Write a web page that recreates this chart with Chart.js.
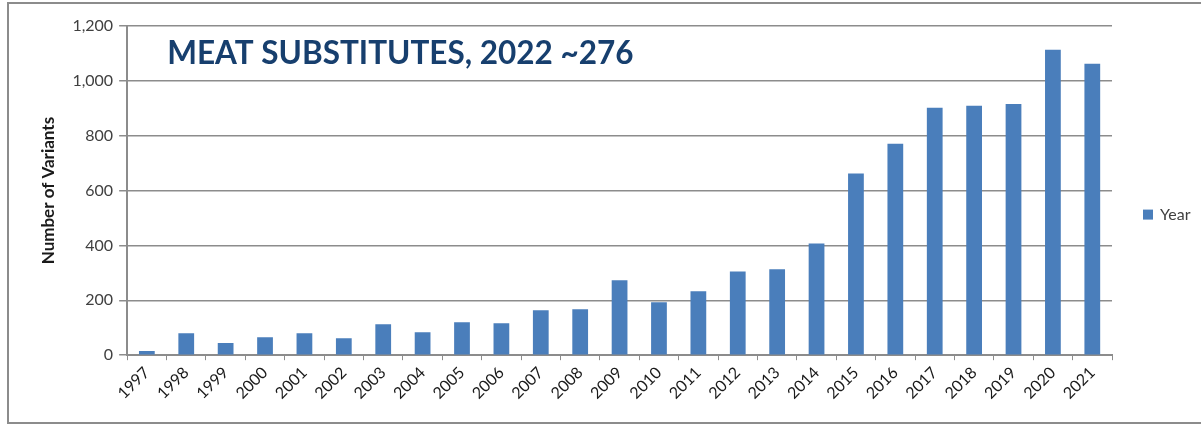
<!DOCTYPE html>
<html>
<head>
<meta charset="utf-8">
<script src="https://cdn.jsdelivr.net/npm/chart.js@4/dist/chart.umd.min.js"></script>
<style>
    html, body { margin: 0; padding: 0; background: #fff; }
    #frame {
        position: absolute; left: 7px; top: 2px; width: 1210px; height: 418px;
        border: 2px solid #8c8c8c;
    }
    #wrap { position: absolute; left: 0; top: 0; width: 1201px; height: 425px; }
</style>
</head>
<body>
<div id="frame"></div>
<div id="wrap"><canvas id="meatChart"></canvas></div>
<script>
// data
const years = ['1997', '1998', '1999', '2000', '2001', '2002', '2003', '2004', '2005', '2006',
    '2007', '2008', '2009', '2010', '2011', '2012', '2013', '2014', '2015', '2016',
    '2017', '2018', '2019', '2020', '2021'];
const variants = [15, 80, 44, 65, 80, 62, 113, 84, 120, 116,
    164, 167, 273, 193, 233, 305, 313, 407, 662, 771,
    902, 909, 916, 1113, 1062];
const yTicks = [0, 200, 400, 600, 800, 1000, 1200];
const seriesName = 'Year';
const headline = 'MEAT SUBSTITUTES, 2022 ~276';

const fontFamily = 'Lato, "Open Sans", sans-serif';

// title sits inside the plot area
const headlinePlugin = {
    id: 'headline',
    afterDraw(chart) {
        const ctx = chart.ctx;
        const area = chart.chartArea;
        ctx.save();
        ctx.font = 'bold 31.5px ' + fontFamily;
        ctx.fillStyle = '#173f6e';
        ctx.textBaseline = 'middle';
        ctx.fillText(headline, area.left + 40, area.top + 28);
        ctx.restore();
    }
};

// legend drawn to the right of the plot, vertically centred
const sideLegendPlugin = {
    id: 'sideLegend',
    afterDraw(chart) {
        const ctx = chart.ctx;
        const area = chart.chartArea;
        const ds = chart.data.datasets[0];
        const cy = (area.top + area.bottom) / 2 + 24;
        const x = area.right + 31;
        ctx.save();
        ctx.fillStyle = ds.backgroundColor;
        ctx.fillRect(x, cy - 5, 10, 10);
        ctx.font = '16px ' + fontFamily;
        ctx.fillStyle = '#404040';
        ctx.textBaseline = 'middle';
        ctx.fillText(ds.label, x + 17, cy);
        ctx.restore();
    }
};

new Chart(document.getElementById('meatChart'), {
    type: 'bar',
    data: {
        labels: years,
        datasets: [{
            label: seriesName,
            data: variants,
            backgroundColor: '#4a7ebb',
            borderWidth: 0,
            barPercentage: 0.4,
            categoryPercentage: 1
        }]
    },
    options: {
        responsive: true,
        maintainAspectRatio: false,
        animation: false,
        layout: {
            padding: { left: 34, right: 89, top: 26, bottom: 19 }
        },
        plugins: {
            legend: { display: false },
            tooltip: { enabled: false }
        },
        scales: {
            x: {
                grid: {
                    display: true,
                    offset: true,
                    drawOnChartArea: false,
                    drawTicks: true,
                    tickLength: 5,
                    color: '#8c8c8c'
                },
                border: { color: '#8c8c8c', width: 2 },
                ticks: {
                    color: '#1a1a1a',
                    maxRotation: 45,
                    minRotation: 45,
                    autoSkip: false,
                    font: { family: fontFamily, size: 16 }
                }
            },
            y: {
                min: 0,
                max: 1200,
                afterBuildTicks(axis) {
                    axis.ticks = yTicks.map(v => ({ value: v }));
                },
                grid: {
                    color: '#8c8c8c',
                    lineWidth: 1.5,
                    tickLength: 8
                },
                border: { color: '#8c8c8c', width: 2 },
                ticks: {
                    color: '#404040',
                    padding: 6,
                    font: { family: fontFamily, size: 16 },
                    callback: function(value) {
                        return value.toLocaleString('en-US');
                    }
                },
                title: {
                    display: true,
                    text: 'Number of Variants',
                    color: '#1a1a1a',
                    font: { family: fontFamily, size: 17, weight: 'bold' },
                    padding: { bottom: 8 }
                }
            }
        }
    },
    plugins: [headlinePlugin, sideLegendPlugin]
});
</script>
</body>
</html>
